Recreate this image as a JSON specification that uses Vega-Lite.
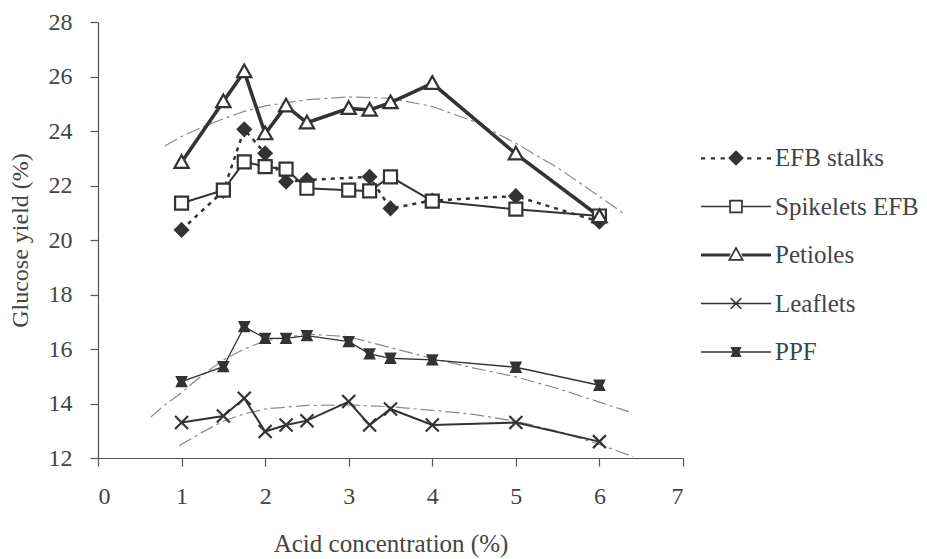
{
  "$schema": "https://vega.github.io/schema/vega-lite/v6.json",
  "width": 585,
  "height": 436,
  "autosize": {"type": "none"},
  "padding": {"left": 98, "top": 22, "right": 244, "bottom": 101},
  "background": "white",
  "config": {
    "view": {"stroke": null},
    "font": "Liberation Serif",
    "axis": {
      "labelFont": "Liberation Serif",
      "titleFont": "Liberation Serif",
      "labelColor": "#444",
      "titleColor": "#444",
      "domainColor": "#555",
      "tickColor": "#555",
      "grid": false,
      "titleFontWeight": "normal",
      "domainWidth": 1.2,
      "tickWidth": 1.2
    },
    "legend": {
      "orient": "none",
      "legendX": 602,
      "legendY": 121,
      "direction": "vertical",
      "columns": 1,
      "padding": 0,
      "symbolSize": 4900,
      "symbolStrokeWidth": 1.7,
      "clipHeight": 30,
      "rowPadding": 18.5,
      "labelFont": "Liberation Serif",
      "labelFontSize": 25,
      "labelColor": "#444",
      "labelOffset": 3,
      "labelLimit": 400
    }
  },
  "datasets": {
    "pts": [
      {"series": "EFB stalks", "acid": 1, "glucose": 20.37},
      {"series": "EFB stalks", "acid": 1.5, "glucose": 21.8},
      {"series": "EFB stalks", "acid": 1.75, "glucose": 24.06},
      {"series": "EFB stalks", "acid": 2, "glucose": 23.18},
      {"series": "EFB stalks", "acid": 2.25, "glucose": 22.14},
      {"series": "EFB stalks", "acid": 2.5, "glucose": 22.2},
      {"series": "EFB stalks", "acid": 3.25, "glucose": 22.32},
      {"series": "EFB stalks", "acid": 3.5, "glucose": 21.16},
      {"series": "EFB stalks", "acid": 4, "glucose": 21.45},
      {"series": "EFB stalks", "acid": 5, "glucose": 21.61},
      {"series": "EFB stalks", "acid": 6, "glucose": 20.67},
      {"series": "Spikelets EFB", "acid": 1, "glucose": 21.35},
      {"series": "Spikelets EFB", "acid": 1.5, "glucose": 21.83},
      {"series": "Spikelets EFB", "acid": 1.75, "glucose": 22.87},
      {"series": "Spikelets EFB", "acid": 2, "glucose": 22.69},
      {"series": "Spikelets EFB", "acid": 2.25, "glucose": 22.6},
      {"series": "Spikelets EFB", "acid": 2.5, "glucose": 21.9},
      {"series": "Spikelets EFB", "acid": 3, "glucose": 21.83},
      {"series": "Spikelets EFB", "acid": 3.25, "glucose": 21.8},
      {"series": "Spikelets EFB", "acid": 3.5, "glucose": 22.32},
      {"series": "Spikelets EFB", "acid": 4, "glucose": 21.43},
      {"series": "Spikelets EFB", "acid": 5, "glucose": 21.13},
      {"series": "Spikelets EFB", "acid": 6, "glucose": 20.88},
      {"series": "Petioles", "acid": 1, "glucose": 22.85},
      {"series": "Petioles", "acid": 1.5, "glucose": 25.08},
      {"series": "Petioles", "acid": 1.75, "glucose": 26.18},
      {"series": "Petioles", "acid": 2, "glucose": 23.9},
      {"series": "Petioles", "acid": 2.25, "glucose": 24.92},
      {"series": "Petioles", "acid": 2.5, "glucose": 24.3},
      {"series": "Petioles", "acid": 3, "glucose": 24.83},
      {"series": "Petioles", "acid": 3.25, "glucose": 24.77},
      {"series": "Petioles", "acid": 3.5, "glucose": 25.04},
      {"series": "Petioles", "acid": 4, "glucose": 25.75},
      {"series": "Petioles", "acid": 5, "glucose": 23.16},
      {"series": "Petioles", "acid": 6, "glucose": 20.86},
      {"series": "Leaflets", "acid": 1, "glucose": 13.3},
      {"series": "Leaflets", "acid": 1.5, "glucose": 13.54},
      {"series": "Leaflets", "acid": 1.75, "glucose": 14.19},
      {"series": "Leaflets", "acid": 2, "glucose": 12.97},
      {"series": "Leaflets", "acid": 2.25, "glucose": 13.21},
      {"series": "Leaflets", "acid": 2.5, "glucose": 13.37},
      {"series": "Leaflets", "acid": 3, "glucose": 14.07},
      {"series": "Leaflets", "acid": 3.25, "glucose": 13.21},
      {"series": "Leaflets", "acid": 3.5, "glucose": 13.8},
      {"series": "Leaflets", "acid": 4, "glucose": 13.21},
      {"series": "Leaflets", "acid": 5, "glucose": 13.3},
      {"series": "Leaflets", "acid": 6, "glucose": 12.6},
      {"series": "PPF", "acid": 1, "glucose": 14.8},
      {"series": "PPF", "acid": 1.5, "glucose": 15.35},
      {"series": "PPF", "acid": 1.75, "glucose": 16.82},
      {"series": "PPF", "acid": 2, "glucose": 16.39},
      {"series": "PPF", "acid": 2.25, "glucose": 16.39},
      {"series": "PPF", "acid": 2.5, "glucose": 16.49},
      {"series": "PPF", "acid": 3, "glucose": 16.27},
      {"series": "PPF", "acid": 3.25, "glucose": 15.82},
      {"series": "PPF", "acid": 3.5, "glucose": 15.66},
      {"series": "PPF", "acid": 4, "glucose": 15.6},
      {"series": "PPF", "acid": 5, "glucose": 15.33},
      {"series": "PPF", "acid": 6, "glucose": 14.67}
    ],
    "trend": [
      {"series": "Petioles", "acid": 0.8, "glucose": 23.45},
      {"series": "Petioles", "acid": 1.0, "glucose": 23.8},
      {"series": "Petioles", "acid": 1.25, "glucose": 24.15},
      {"series": "Petioles", "acid": 1.5, "glucose": 24.45},
      {"series": "Petioles", "acid": 1.75, "glucose": 24.72},
      {"series": "Petioles", "acid": 2.0, "glucose": 24.92},
      {"series": "Petioles", "acid": 2.5, "glucose": 25.15},
      {"series": "Petioles", "acid": 3.0, "glucose": 25.25},
      {"series": "Petioles", "acid": 3.5, "glucose": 25.2},
      {"series": "Petioles", "acid": 4.0, "glucose": 24.9},
      {"series": "Petioles", "acid": 4.5, "glucose": 24.35},
      {"series": "Petioles", "acid": 5.0, "glucose": 23.55},
      {"series": "Petioles", "acid": 5.5, "glucose": 22.65},
      {"series": "Petioles", "acid": 6.0, "glucose": 21.6},
      {"series": "Petioles", "acid": 6.3, "glucose": 20.95},
      {"series": "PPF", "acid": 0.63, "glucose": 13.5},
      {"series": "PPF", "acid": 0.8, "glucose": 13.95},
      {"series": "PPF", "acid": 1.0, "glucose": 14.4},
      {"series": "PPF", "acid": 1.25, "glucose": 15.05},
      {"series": "PPF", "acid": 1.5, "glucose": 15.6},
      {"series": "PPF", "acid": 1.75, "glucose": 16.0},
      {"series": "PPF", "acid": 2.0, "glucose": 16.3},
      {"series": "PPF", "acid": 2.5, "glucose": 16.55},
      {"series": "PPF", "acid": 3.0, "glucose": 16.45},
      {"series": "PPF", "acid": 3.5, "glucose": 16.05},
      {"series": "PPF", "acid": 4.0, "glucose": 15.65},
      {"series": "PPF", "acid": 4.5, "glucose": 15.3},
      {"series": "PPF", "acid": 5.0, "glucose": 14.98},
      {"series": "PPF", "acid": 5.5, "glucose": 14.55},
      {"series": "PPF", "acid": 6.0, "glucose": 14.05},
      {"series": "PPF", "acid": 6.35, "glucose": 13.7},
      {"series": "Leaflets", "acid": 0.97, "glucose": 12.45},
      {"series": "Leaflets", "acid": 1.25, "glucose": 12.95},
      {"series": "Leaflets", "acid": 1.5, "glucose": 13.35},
      {"series": "Leaflets", "acid": 1.75, "glucose": 13.62},
      {"series": "Leaflets", "acid": 2.0, "glucose": 13.8},
      {"series": "Leaflets", "acid": 2.5, "glucose": 13.93},
      {"series": "Leaflets", "acid": 3.0, "glucose": 13.95},
      {"series": "Leaflets", "acid": 3.5, "glucose": 13.88},
      {"series": "Leaflets", "acid": 4.0, "glucose": 13.75},
      {"series": "Leaflets", "acid": 4.5, "glucose": 13.6},
      {"series": "Leaflets", "acid": 5.0, "glucose": 13.35},
      {"series": "Leaflets", "acid": 5.5, "glucose": 12.98},
      {"series": "Leaflets", "acid": 6.0, "glucose": 12.5},
      {"series": "Leaflets", "acid": 6.4, "glucose": 12.05}
    ]
  },
  "encoding": {
    "x": {
      "field": "acid", "type": "quantitative",
      "scale": {"domain": [0, 7], "nice": false, "zero": false},
      "axis": {
        "title": "Acid concentration (%)",
        "values": [0, 1, 2, 3, 4, 5, 6, 7],
        "tickSize": 8,
        "labelPadding": 18,
        "labelFontSize": 24,
        "titleFontSize": 25,
        "titlePadding": 23
      }
    },
    "y": {
      "field": "glucose", "type": "quantitative",
      "scale": {"domain": [12, 28], "nice": false, "zero": false},
      "axis": {
        "title": "Glucose yield (%)",
        "values": [12, 14, 16, 18, 20, 22, 24, 26, 28],
        "tickSize": 8,
        "labelPadding": 18,
        "labelFontSize": 24,
        "titleFontSize": 24,
        "titlePadding": 16
      }
    }
  },
  "layer": [
    {
      "data": {"name": "trend"},
      "mark": {"type": "line", "color": "#8a8a8a", "strokeWidth": 1.2, "strokeDash": [14, 4, 3, 4]},
      "encoding": {"detail": {"field": "series", "type": "nominal"}}
    },
    {
      "data": {"name": "pts"},
      "transform": [{"filter": "datum.series === 'EFB stalks'"}],
      "mark": {"type": "line", "color": "#333", "strokeWidth": 2.5, "strokeDash": [4, 5]},
      "encoding": {}
    },
    {
      "data": {"name": "pts"},
      "transform": [{"filter": "datum.series === 'Spikelets EFB' || datum.series === 'Leaflets'"}],
      "mark": {"type": "line", "color": "#333", "strokeWidth": 2},
      "encoding": {"detail": {"field": "series", "type": "nominal"}}
    },
    {
      "data": {"name": "pts"},
      "transform": [{"filter": "datum.series === 'Petioles'"}],
      "mark": {"type": "line", "color": "#333", "strokeWidth": 3.6},
      "encoding": {}
    },
    {
      "data": {"name": "pts"},
      "transform": [{"filter": "datum.series === 'PPF'"}],
      "mark": {"type": "line", "color": "#333", "strokeWidth": 1.3},
      "encoding": {}
    },
    {
      "data": {"name": "pts"},
      "mark": {"type": "point", "filled": true, "opacity": 1, "stroke": "#333", "strokeWidth": 2.2, "size": 169},
      "encoding": {
        "fill": {
          "field": "series", "type": "nominal",
          "scale": {"domain": ["EFB stalks", "Spikelets EFB", "Petioles", "Leaflets", "PPF"], "range": ["#333", "white", "white", "white", "#333"]},
          "legend": null
        },
        "shape": {
          "field": "series", "type": "nominal",
          "scale": {
            "domain": ["EFB stalks", "Spikelets EFB", "Petioles", "Leaflets", "PPF"],
            "range": [
              "M0,-1L1,0L0,1L-1,0Z",
              "M-1,-1H1V1H-1Z",
              "M0,-1.1L1.1,0.85L-1.1,0.85Z",
              "M-1,-1L1,1M-1,1L1,-1",
              "M-0.7,-0.7H0.7L0.35,0L0.7,0.7H-0.7L-0.35,0Z"
            ]
          },
          "legend": null
        }
      }
    },
    {
      "data": {"name": "pts"},
      "transform": [{"filter": "datum.acid > 100"}],
      "mark": {"type": "point", "filled": true, "opacity": 1, "stroke": "#333", "size": 4900},
      "encoding": {
        "fill": {
          "field": "series", "type": "nominal",
          "scale": {"domain": ["EFB stalks", "Spikelets EFB", "Petioles", "Leaflets", "PPF"], "range": ["#333", "white", "white", "white", "#333"]},
          "legend": {"title": null}
        },
        "shape": {
          "field": "series", "type": "nominal",
          "scale": {
            "domain": ["EFB stalks", "Spikelets EFB", "Petioles", "Leaflets", "PPF"],
            "range": [
              "M-1,0H-0.88M-0.72,0H-0.6M-0.44,0H-0.32M0,-0.19L0.19,0L0,0.19L-0.19,0ZM0.32,0H0.44M0.6,0H0.72M0.88,0H1M-1,0.015H-0.88M-0.72,0.015H-0.6M-0.44,0.015H-0.32M0.32,0.015H0.44M0.6,0.015H0.72M0.88,0.015H1",
              "M-1,0H-0.17M0.17,0H1M-0.17,-0.17H0.17V0.17H-0.17Z",
              "M-1,-0.02H-0.16M0.16,-0.02H1M-1,0.02H-0.18M0.18,0.02H1M0,-0.2L0.19,0.14L-0.19,0.14Z",
              "M-1,0H1M-0.15,-0.15L0.15,0.15M-0.15,0.15L0.15,-0.15",
              "M-1,0H1M-0.12,-0.12H0.12L0.06,0L0.12,0.12H-0.12L-0.06,0Z"
            ]
          },
          "legend": {"title": null}
        }
      }
    }
  ],
  "resolve": {
    "scale": {"shape": "independent", "fill": "independent"},
    "legend": {"shape": "independent", "fill": "independent"}
  }
}
